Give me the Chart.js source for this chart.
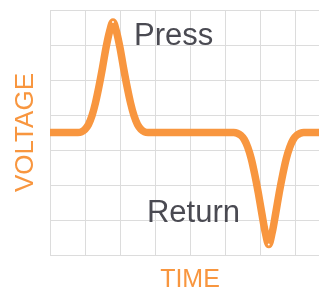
<!DOCTYPE html>
<html>
<head>
<meta charset="utf-8">
<script src="https://cdn.jsdelivr.net/npm/chart.js@4"></script>
<style>
  html, body { margin: 0; padding: 0; background: #fff; overflow: hidden; }
  #wrap { position: absolute; left: 0; top: 0; width: 340px; height: 293px; }
</style>
</head>
<body>
<div id="wrap"><canvas id="signalChart" width="340" height="293"></canvas></div>
<script>
// time axis positions (grid units) and voltage readings
const timeValues = [
    0, 0.8, 0.9, 1.0, 1.1, 1.2, 1.3, 1.4, 1.5, 1.6, 1.7, 1.8, 1.9, 2.0, 2.1, 2.2, 2.3, 2.4, 2.5, 2.6, 2.7, 2.8,
    5.25, 5.35, 5.45, 5.55, 5.65, 5.75, 5.85, 5.95, 6.05, 6.15, 6.25, 6.35, 6.45, 6.55, 6.65, 6.75, 6.85, 6.95, 7.05, 7.15, 7.25,
    8.5
];
const voltageValues = [
    3.5, 3.5, 3.52, 3.59, 3.73, 3.98, 4.35, 4.82, 5.35, 5.92, 6.38, 6.66, 6.38, 5.92, 5.35, 4.82, 4.35, 3.98, 3.73, 3.59, 3.52, 3.5,
    3.5, 3.48, 3.42, 3.3, 3.08, 2.75, 2.3, 1.78, 1.2, 0.65, 0.3, 0.65, 1.2, 1.78, 2.3, 2.75, 3.08, 3.3, 3.42, 3.48, 3.5,
    3.5
];
const xTickRange = [0, 8];
const yTickRange = [0, 7];
const noteLabels = ["Press", "Return"];
const noteTime = [2.4, 2.77];
const noteVoltage = [6.0, 0.94];

const orange = "#f8963f";
const gridColor = "#dcdcdc";

Chart.defaults.font.family = "'Liberation Sans', Arial, sans-serif";

const points = timeValues.map((t, i) => ({ x: t, y: voltageValues[i] }));
const vMax = Math.max(...voltageValues);
const vMin = Math.min(...voltageValues);

const notesPlugin = {
    id: "notes",
    afterDatasetsDraw(chart) {
        const { ctx, scales } = chart;
        ctx.save();
        ctx.fillStyle = "#4a4a52";
        ctx.font = "31px 'Liberation Sans', Arial, sans-serif";
        ctx.textBaseline = "alphabetic";
        noteLabels.forEach((txt, i) => {
            ctx.fillText(txt, scales.x.getPixelForValue(noteTime[i]), scales.y.getPixelForValue(noteVoltage[i]));
        });
        ctx.restore();
    }
};

const ctx = document.getElementById("signalChart").getContext("2d");
new Chart(ctx, {
    type: "line",
    data: {
        datasets: [{
            data: points,
            borderColor: orange,
            borderWidth: 7.5,
            borderCapStyle: "round",
            borderJoinStyle: "round",
            cubicInterpolationMode: "monotone",
            fill: false,
            pointRadius: c => (c.raw && (c.raw.y === vMax || c.raw.y === vMin)) ? 1 : 0,
            pointBackgroundColor: "#ffffff",
            pointBorderWidth: 0
        }]
    },
    options: {
        responsive: false,
        animation: false,
        layout: { padding: { top: 10, right: 10, left: 0, bottom: 0 } },
        plugins: {
            legend: { display: false },
            tooltip: { enabled: false }
        },
        scales: {
            x: {
                type: "linear",
                min: xTickRange[0],
                max: xTickRange[1],
                ticks: { display: false, stepSize: 1 },
                grid: { color: gridColor, drawTicks: false },
                border: { color: gridColor },
                title: {
                    display: true,
                    text: "TIME",
                    color: orange,
                    font: { size: 25, lineHeight: 1 },
                    padding: { top: 13, bottom: 0 }
                }
            },
            y: {
                min: yTickRange[0],
                max: yTickRange[1],
                ticks: { display: false, stepSize: 1 },
                grid: { color: gridColor, drawTicks: false },
                border: { color: gridColor },
                title: {
                    display: true,
                    text: "VOLTAGE",
                    color: orange,
                    font: { size: 26, lineHeight: 1 },
                    padding: { top: 13, bottom: 11 }
                }
            }
        }
    },
    plugins: [notesPlugin]
});
</script>
</body>
</html>
